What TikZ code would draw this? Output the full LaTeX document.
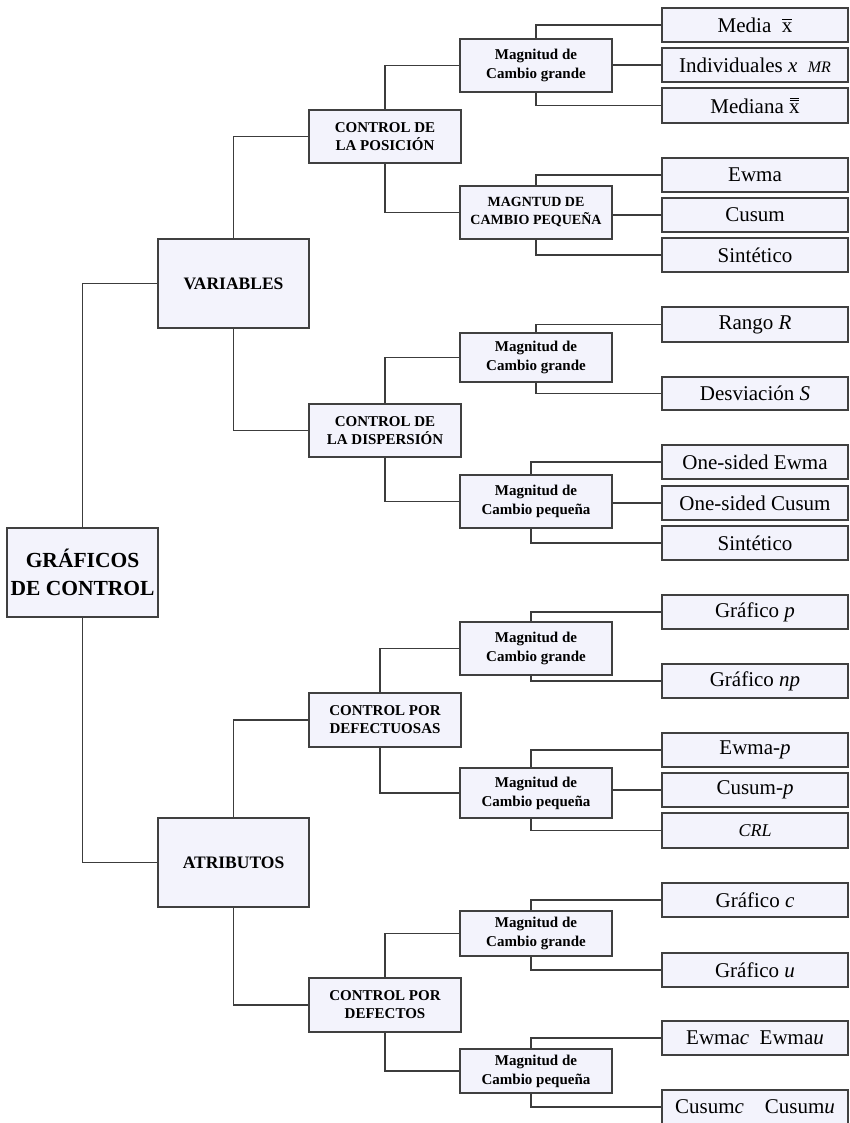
\documentclass[tikz,border=0pt]{standalone}
\usepackage{fontspec}
\setmainfont{Liberation Serif}
\definecolor{boxfill}{RGB}{243,243,252}
\definecolor{boxdraw}{RGB}{64,64,64}
\definecolor{linec}{RGB}{60,60,60}
\newcommand{\myxbar}{\mbox{x\kern-0.47em\raisebox{0.58em}{\rule{0.44em}{0.05em}}\kern0.03em}}
\newcommand{\myxbbar}{\mbox{x\kern-0.47em\raisebox{0.58em}{\rule{0.44em}{0.05em}}\kern-0.44em\raisebox{0.70em}{\rule{0.44em}{0.05em}}\kern0.03em}}
\begin{document}
\begin{tikzpicture}[x=1pt,y=-1pt,
 box/.style={draw=boxdraw, line width=1.6pt, fill=boxfill, inner sep=0pt, align=center, text=black},
 rootbox/.style={box, minimum width=151pt, minimum height=89pt, font=\bfseries\fontsize{21.5}{28}\selectfont},
 lvla/.style={box, minimum width=151pt, minimum height=89pt, font=\bfseries\fontsize{17.5}{20}\selectfont},
 lvlb/.style={box, minimum width=152pt, minimum height=53pt, font=\bfseries\fontsize{15}{18}\selectfont},
 lvlc/.style={box, minimum width=152pt, font=\bfseries\fontsize{15}{19}\selectfont},
 leaf/.style={box, minimum width=186pt, minimum height=34pt, font=\fontsize{21}{24}\selectfont},
 conn/.style={draw=linec, line width=1.6pt}]
\useasboundingbox (0,0) rectangle (850,1123);
\clip (0,0) rectangle (850,1123);
\fill[white] (0,0) rectangle (850,1123);

% root and level 1
\node[rootbox] (root) at (82.5,572.5) {GRÁFICOS\\DE CONTROL};
\node[lvla] (var) at (233.5,283.5) {VARIABLES};
\node[lvla] (atr) at (233.5,862.5) {ATRIBUTOS};

% level 2
\node[lvlb] (pos) at (385,136.5) {CONTROL DE\\LA POSICIÓN};
\node[lvlb] (disp) at (385,430.5) {CONTROL DE\\LA DISPERSIÓN};
\node[lvlb, minimum height=54pt] (def) at (385,720) {CONTROL POR\\DEFECTUOSAS};
\node[lvlb, minimum height=54pt] (dft) at (385,1005) {CONTROL POR\\DEFECTOS};

% level 3
\node[lvlc, minimum height=53pt] (m1) at (536,65.5) {Magnitud de\\Cambio grande};
\node[lvlc, minimum height=53pt, font=\bfseries\fontsize{14}{18}\selectfont] (m2) at (536,212.5) {MAGNTUD DE\\CAMBIO PEQUEÑA};
\node[lvlc, minimum height=49pt] (m3) at (536,357.5) {Magnitud de\\Cambio grande};
\node[lvlc, minimum height=53pt] (m4) at (536,501.5) {Magnitud de\\Cambio pequeña};
\node[lvlc, minimum height=53pt] (m5) at (536,648.5) {Magnitud de\\Cambio grande};
\node[lvlc, minimum height=50pt] (m6) at (536,793) {Magnitud de\\Cambio pequeña};
\node[lvlc, minimum height=45pt] (m7) at (536,933.5) {Magnitud de\\Cambio grande};
\node[lvlc, minimum height=44pt] (m8) at (536,1071) {Magnitud de\\Cambio pequeña};

% leaves
\node[leaf] (l1) at (755,25) {Media\enspace\myxbar};
\node[leaf] (l2) at (755,65) {Individuales \textit{x}\enspace{\fontsize{16}{16}\selectfont\textit{MR}}};
\node[leaf, minimum height=35pt] (l3) at (755,105.5) {Mediana \myxbbar};
\node[leaf] (l4) at (755,175) {Ewma};
\node[leaf] (l5) at (755,215) {Cusum};
\node[leaf] (l6) at (755,255) {Sintético};
\node[leaf, minimum height=35pt] (l7) at (755,324.5) {Rango \textit{R}};
\node[leaf, minimum height=33pt] (l8) at (755,393.5) {Desviación \textit{S}};
\node[leaf] (l9) at (755,462) {One-sided Ewma};
\node[leaf] (l10) at (755,503) {One-sided Cusum};
\node[leaf] (l11) at (755,543) {Sintético};
\node[leaf] (l12) at (755,612) {Gráfico \textit{p}};
\node[leaf] (l13) at (755,681) {Gráfico \textit{np}};
\node[leaf] (l14) at (755,750) {Ewma-\textit{p}};
\node[leaf] (l15) at (755,790) {Cusum-\textit{p}};
\node[leaf, minimum height=35pt] (l16) at (755,830.5) {{\fontsize{18}{18}\selectfont\textit{CRL}}};
\node[leaf] (l17) at (755,900) {Gráfico \textit{c}};
\node[leaf] (l18) at (755,970) {Gráfico \textit{u}};
\node[leaf] (l19) at (755,1038) {Ewma\textit{c}\enspace Ewma\textit{u}};
\node[leaf] (l20) at (755,1107) {Cusum\textit{c}\quad Cusum\textit{u}};

% connectors: root
\draw[conn] (root.north) |- (var.west);
\draw[conn] (root.south) |- (atr.west);
% level 1 -> 2
\draw[conn] (var.north) |- (pos.west);
\draw[conn] (var.south) |- (disp.west);
\draw[conn] (atr.north) |- (def.west);
\draw[conn] (atr.south) |- (dft.west);
% level 2 -> 3
\draw[conn] (pos.north) |- (m1.west);
\draw[conn] (pos.south) |- (m2.west);
\draw[conn] (disp.north) |- (m3.west);
\draw[conn] (disp.south) |- (m4.west);
\draw[conn] ([xshift=-5pt]def.north) |- (m5.west);
\draw[conn] ([xshift=-5pt]def.south) |- (m6.west);
\draw[conn] (dft.north) |- (m7.west);
\draw[conn] (dft.south) |- (m8.west);
% level 3 -> leaves
\draw[conn] (m1.north) |- (l1.west);
\draw[conn] (l2.west -| m1.east) -- (l2.west);
\draw[conn] (m1.south) |- (l3.west);
\draw[conn] (m2.north) |- (l4.west);
\draw[conn] (l5.west -| m2.east) -- (l5.west);
\draw[conn] (m2.south) |- (l6.west);
\draw[conn] (m3.north) |- (l7.west);
\draw[conn] (m3.south) |- (l8.west);
\draw[conn] ([xshift=-5pt]m4.north) |- (l9.west);
\draw[conn] (l10.west -| m4.east) -- (l10.west);
\draw[conn] ([xshift=-5pt]m4.south) |- (l11.west);
\draw[conn] ([xshift=-5pt]m5.north) |- (l12.west);
\draw[conn] ([xshift=-5pt]m5.south) |- (l13.west);
\draw[conn] ([xshift=-5pt]m6.north) |- (l14.west);
\draw[conn] (l15.west -| m6.east) -- (l15.west);
\draw[conn] ([xshift=-5pt]m6.south) |- (l16.west);
\draw[conn] ([xshift=-5pt]m7.north) |- (l17.west);
\draw[conn] ([xshift=-5pt]m7.south) |- (l18.west);
\draw[conn] ([xshift=-5pt]m8.north) |- (l19.west);
\draw[conn] ([xshift=-5pt]m8.south) |- (l20.west);
\end{tikzpicture}
\end{document}
